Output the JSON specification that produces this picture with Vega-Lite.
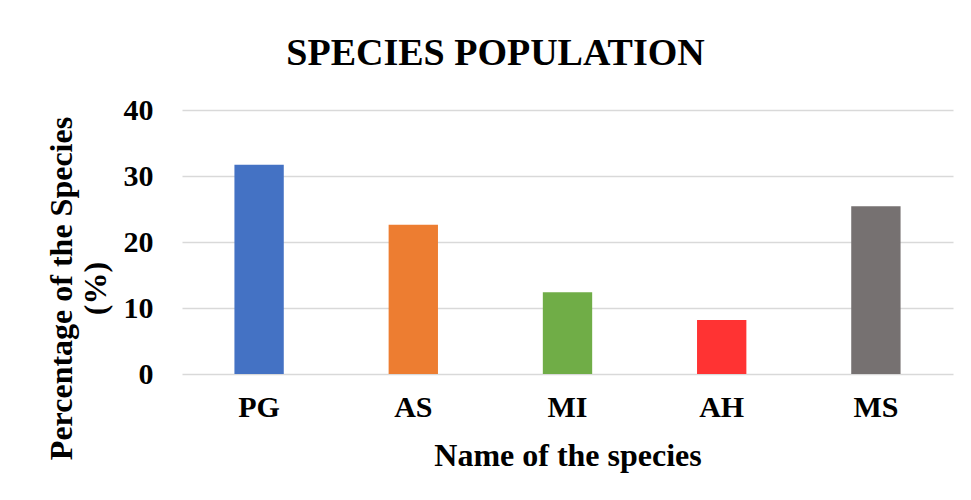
{
  "$schema": "https://vega.github.io/schema/vega-lite/v6.json",
  "autosize": "none",
  "width": 771,
  "height": 264,
  "padding": {"left": 182, "top": 110, "right": 18, "bottom": 126},
  "background": "white",
  "title": {
    "text": "SPECIES POPULATION",
    "font": "Liberation Serif",
    "fontSize": 38,
    "fontWeight": "bold",
    "color": "black",
    "anchor": "middle",
    "dx": -72,
    "offset": 22
  },
  "data": {
    "values": [
      {"species": "PG", "percent": 31.7},
      {"species": "AS", "percent": 22.6},
      {"species": "MI", "percent": 12.4},
      {"species": "AH", "percent": 8.2},
      {"species": "MS", "percent": 25.4}
    ]
  },
  "mark": {"type": "bar"},
  "encoding": {
    "x": {
      "field": "species",
      "type": "nominal",
      "sort": null,
      "scale": {"paddingInner": 0.68, "paddingOuter": 0.34},
      "axis": {
        "title": "Name of the species",
        "labelAngle": 0,
        "domain": false,
        "ticks": false,
        "labelPadding": 18,
        "titlePadding": 18
      }
    },
    "y": {
      "field": "percent",
      "type": "quantitative",
      "scale": {"domain": [0, 40]},
      "axis": {
        "title": ["Percentage of the Species", "(%)"],
        "values": [0, 10, 20, 30, 40],
        "domain": false,
        "ticks": false,
        "labelPadding": 29,
        "titleLineHeight": 34,
        "titleX": -104,
        "titleY": 178,
        "titleBaseline": "bottom",
        "titleAlign": "center"
      }
    },
    "color": {
      "field": "species",
      "type": "nominal",
      "scale": {
        "domain": ["PG", "AS", "MI", "AH", "MS"],
        "range": ["#4472C4", "#ED7D31", "#70AD47", "#FF3333", "#767171"]
      },
      "legend": null
    }
  },
  "config": {
    "view": {"stroke": null},
    "axis": {
      "labelFont": "Liberation Serif",
      "labelFontSize": 30,
      "labelFontWeight": "bold",
      "labelColor": "black",
      "titleFont": "Liberation Serif",
      "titleFontSize": 32,
      "titleFontWeight": "bold",
      "titleColor": "black",
      "gridColor": "#D9D9D9",
      "gridWidth": 1.5
    }
  }
}
